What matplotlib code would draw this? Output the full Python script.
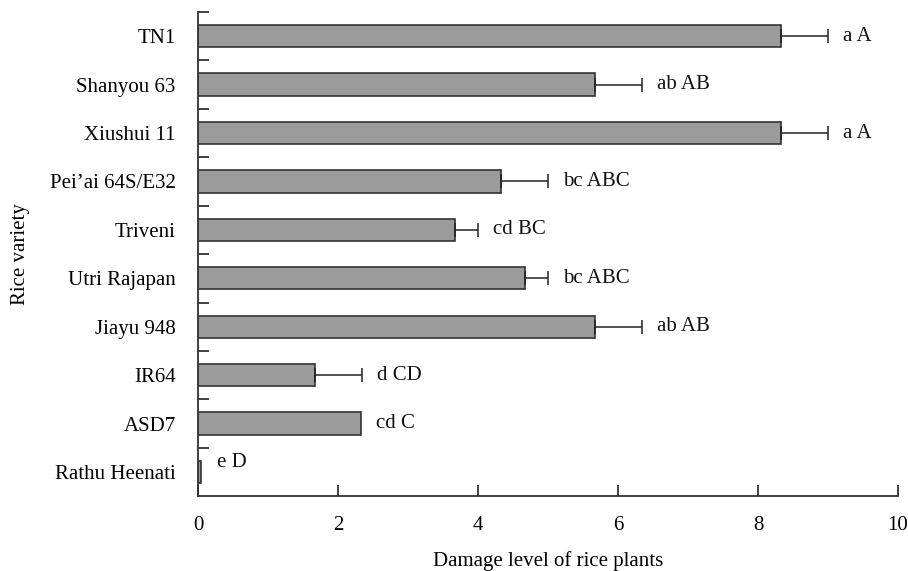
import matplotlib
matplotlib.use("Agg")
import matplotlib.pyplot as plt
import numpy as np

varieties = ["TN1", "Shanyou 63", "Xiushui 11", "Pei\u2019ai 64S/E32", "Triveni",
             "Utri Rajapan", "Jiayu 948", "IR64", "ASD7", "Rathu Heenati"]
damage = [8.33, 5.67, 8.33, 4.33, 3.67, 4.67, 5.67, 1.67, 2.33, 0.05]
errors = [0.67, 0.67, 0.67, 0.67, 0.33, 0.33, 0.67, 0.67, 0.0, 0.0]
letters = ["a A", "ab AB", "a A", "bc ABC", "cd BC", "bc ABC", "ab AB", "d CD", "cd C", "e D"]

plt.rcParams['font.family'] = ['Liberation Serif', 'DejaVu Serif']

fig = plt.figure(figsize=(9.08, 5.71), dpi=100)
ax = fig.add_axes([0.218, 0.131, 0.771, 0.848])

y = np.arange(len(varieties))
ax.barh(y, damage, height=0.46, color='#9b9b9b', edgecolor='#333333', linewidth=1.2, zorder=2)

# only bars with a nonzero error get a whisker
has_err = np.array(errors) > 0
d = np.array(damage)[has_err]
e = np.array(errors)[has_err]
ax.errorbar(d, y[has_err], xerr=[np.zeros(len(e)), e], fmt='none',
            ecolor='#222222', elinewidth=1.1, capsize=5, capthick=1.1, zorder=3)

for i, (v, err, lab) in enumerate(zip(damage, errors, letters)):
    dy = 7 if i == len(varieties) - 1 else 0
    ax.annotate(lab, xy=(v + err, i), xytext=(11, dy), textcoords='offset points',
                ha='left', va='center', fontsize=15, color='#111111')

ax.set_ylim(len(varieties) - 0.5, -0.5)
ax.set_xlim(0, 10)
ax.set_xticks([0, 2, 4, 6, 8, 10])
ax.set_yticks(y)
ax.set_yticklabels(varieties)
ax.set_yticks(np.arange(-0.5, len(varieties) - 0.5, 1), minor=True)

ax.tick_params(axis='y', which='major', length=0, pad=16, labelsize=15)
ax.tick_params(axis='y', which='minor', direction='in', length=8, width=1.3, color='#333333')
ax.tick_params(axis='x', which='major', direction='in', length=8, width=1.3, color='#333333',
               pad=14, labelsize=15)

for s in ['top', 'right']:
    ax.spines[s].set_visible(False)
for s in ['left', 'bottom']:
    ax.spines[s].set_linewidth(1.3)
    ax.spines[s].set_color('#333333')

ax.set_xlabel("Damage level of rice plants", fontsize=15, labelpad=12)
ax.set_ylabel("Rice variety", fontsize=15, labelpad=14)

fig.savefig("out.png", dpi=100)
